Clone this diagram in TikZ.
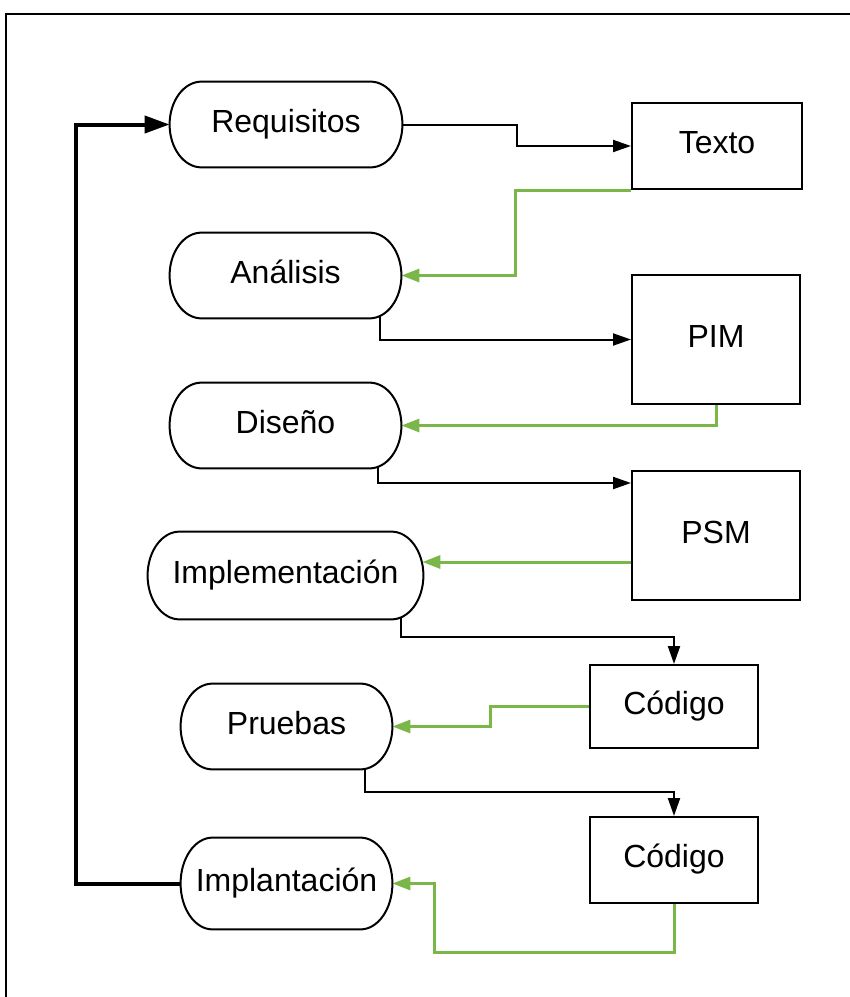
\documentclass[tikz,border=0pt]{standalone}
\usepackage{fontspec}
\setmainfont{Liberation Sans}
\usetikzlibrary{arrows.meta,calc}
\definecolor{flowgreen}{HTML}{7AB648}
\pgfdeclarelayer{wires}
\pgfdeclarelayer{outlines}
\pgfsetlayers{wires,outlines,main}

\begin{document}
\begin{tikzpicture}[x=0.5pt,y=-0.5pt,
  labelfont/.style={font=\fontsize{16}{19}\selectfont, text height=11.5pt, text depth=4pt},
  phase/.style n args={2}{labelfont, minimum width=#1, minimum height=#2, inner sep=0pt},
  artefact/.style n args={2}{labelfont, draw, line width=1pt, minimum width=#1, minimum height=#2, inner sep=0pt},
  stadium/.style={draw, line width=1pt, fill=white},
  fwd/.style={line width=1pt, -{Triangle[length=9pt,width=6pt]}},
  back/.style={draw=flowgreen, line width=1.5pt, -{Triangle[length=9pt,width=6.5pt]}},
  loopback/.style={line width=2pt, -{Triangle[length=12.5pt,width=8.5pt]}},
  frame/.style={line width=1.25pt}]

\useasboundingbox (0,0) rectangle (850,997);
\draw[frame] (850,14) -- (6,14) -- (6,997);

% phases (left column) and artefacts (right column)
\node[phase={116pt}{42.5pt}]    (req)  at (286,124.5)   {Requisitos};
\node[artefact={85pt}{43pt}]    (txt)  at (717,146)     {Texto};
\node[phase={115.5pt}{42.5pt}]  (ana)  at (285.5,275.5) {Análisis};
\node[phase={115.5pt}{42.5pt}]  (dis)  at (285.5,425.5) {Diseño};
\node[artefact={84pt}{64.5pt}]  (pim)  at (716,339.5)   {PIM};
\node[artefact={84pt}{64.5pt}]  (psm)  at (716,535.5)   {PSM};
\node[phase={137.5pt}{43.5pt}]  (imp)  at (285.5,575.5) {Implementación};
\node[artefact={84pt}{41.5pt}]  (cod1) at (674,706.5)   {Código};
\node[phase={105.5pt}{42.5pt}]  (pru)  at (286.5,726.5) {Pruebas};
\node[artefact={84pt}{43pt}]    (cod2) at (674,860)     {Código};
\node[phase={105.5pt}{45.5pt}]  (impl) at (286.5,883.5) {Implantación};

% terminator outlines with elliptical ends
\begin{pgfonlayer}{outlines}
\foreach \s in {req,ana,dis,imp,pru,impl}
  \draw[stadium] let \p1=(\s.north east), \p2=(\s.south west), \n1={(\y1-\y2)/2} in
    (\x2+16pt,\y1) -- (\x1-16pt,\y1)
    arc[start angle=90,end angle=-90,x radius=16pt,y radius={\n1*1pt}]
    -- (\x2+16pt,\y2)
    arc[start angle=270,end angle=90,x radius=16pt,y radius={\n1*1pt}] -- cycle;
\end{pgfonlayer}

% connectors
\begin{pgfonlayer}{wires}
\draw[fwd]  (req.east) -- ++(115,0) |- (txt.west);
\draw[back] (txt.south west) -- ++(-116,0) |- (ana.east);
\draw[fwd]  ([xshift=-10.5pt,yshift=4pt]ana.south east) |- (pim.west);
\draw[back] (pim.south) |- (dis.east);
\draw[fwd]  ([xshift=-11.5pt,yshift=4pt]dis.south east) |- ([yshift=-6.5pt]psm.north west);
\coordinate (psmout) at ([yshift=-13.25pt]psm.west);
\coordinate (impin) at ([xshift=-0.5pt]imp.east |- psmout);
\draw[back] (psmout) -- (impin);
\draw[fwd]  ([xshift=-11pt,yshift=4pt]imp.south east) -- ++(0,26) -| (cod1.north);
\draw[back] (cod1.west) -- ++(-99,0) |- (pru.east);
\draw[fwd]  ([xshift=-13.5pt,yshift=4pt]pru.south east) -- ++(0,31) -| (cod2.north);
\draw[back] (cod2.south) -- ++(0,48) -| ([xshift=21pt]impl.east) -- (impl.east);
\draw[loopback] (impl.west) -- ++(-105,0) |- (req.west);
\end{pgfonlayer}
\end{tikzpicture}
\end{document}
